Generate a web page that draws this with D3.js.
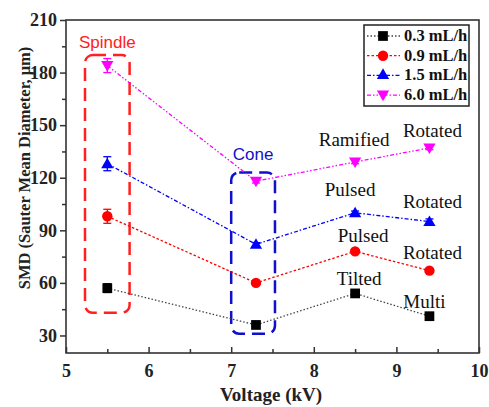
<!DOCTYPE html>
<html>
<head>
<meta charset="utf-8">
<script src="https://cdn.jsdelivr.net/npm/d3@7"></script>
<style>
  body { margin: 0; background: #fff; }
  svg { display: block; }
</style>
</head>
<body>
<script>
'use strict';

// chart values
const voltages = [5.5, 7.3, 8.5, 9.4];
const seriesNames = ['0.3 mL/h', '0.9 mL/h', '1.5 mL/h', '6.0 mL/h'];
const smd03 = [57, 36, 54, 41];
const smd09 = [98, 60, 78, 67];
const smd15 = [128, 82, 100, 95];
const smd60 = [184, 118, 129, 137];
const err03 = [2.5, 1, 1, 1];
const err09 = [4, 1, 1, 1];
const err15 = [4, 1, 1, 1.5];
const err60 = [4, 1, 1, 1];
const xTicks = [5, 6, 7, 8, 9, 10];
const yTicks = [30, 60, 90, 120, 150, 180, 210];

// mode labels, tied to the point they describe: [voltage, smd, text]
const modeLabels = [
  [8.5, 129, 'Ramified'], [9.4, 137, 'Rotated'],
  [8.5, 100, 'Pulsed'], [9.4, 95, 'Rotated'],
  [8.5, 78, 'Pulsed'], [9.4, 67, 'Rotated'],
  [8.5, 54, 'Tilted'], [9.4, 41, 'Multi']
];
// pixel nudges for those labels (dx, dy of baseline from the point)
const modeNudge = [
  [-1, -16], [3, -11],
  [-5, -17], [3, -14],
  [8, -9], [3, -12],
  [4, -8], [-5, -8]
];

// pick the first serif font the browser really has
function hasFont(name) {
  let ctx = document.createElement('canvas').getContext('2d');
  let probe = 'abcdefghijklmnopqrstuvwxyz0123456789';
  ctx.font = '40px monospace';
  let base = ctx.measureText(probe).width;
  ctx.font = '40px "' + name + '", monospace';
  return ctx.measureText(probe).width !== base;
}
let serifName = ['Liberation Serif', 'Times New Roman', 'Tinos', 'DejaVu Serif']
  .find(hasFont) || 'serif';
const serif = '"' + serifName + '", serif';
const sans = '"Liberation Sans", Arial, sans-serif';

const W = 489, H = 407;
const margin = { left: 66, right: 10, top: 20, bottom: 54 };

let svg = d3.select('body').append('svg')
  .attr('width', W)
  .attr('height', H);

let x = d3.scaleLinear().domain([5, 10]).range([margin.left, W - margin.right]);
let y = d3.scaleLinear().domain([20, 210]).range([H - margin.bottom, margin.top]);

const axisColor = '#333';

// frame
svg.append('rect')
  .attr('x', x(5)).attr('y', y(210))
  .attr('width', x(10) - x(5)).attr('height', y(20) - y(210))
  .attr('fill', 'none').attr('stroke', axisColor).attr('stroke-width', 1.6);

// x axis, ticks inward
let xAxis = d3.axisBottom(x).tickValues(xTicks).tickFormat(d3.format('d')).tickSize(-6).tickPadding(11);
let gx = svg.append('g').attr('transform', 'translate(0,' + y(20) + ')').call(xAxis);
let xMinor = d3.axisBottom(x).tickValues([5.5, 6.5, 7.5, 8.5, 9.5]).tickSize(-4).tickFormat('');
let gxm = svg.append('g').attr('transform', 'translate(0,' + y(20) + ')').call(xMinor);

// y axis, ticks outward
let yAxis = d3.axisLeft(y).tickValues(yTicks).tickSize(6).tickPadding(3);
let gy = svg.append('g').attr('transform', 'translate(' + x(5) + ',0)').call(yAxis);
let yMinor = d3.axisLeft(y).tickValues([45, 75, 105, 135, 165, 195]).tickSize(4).tickFormat('');
let gym = svg.append('g').attr('transform', 'translate(' + x(5) + ',0)').call(yMinor);

[gx, gxm, gy, gym].forEach(g => {
  g.attr('font-family', null).attr('font-size', null);
  g.select('.domain').remove();
  g.selectAll('line').attr('stroke', axisColor).attr('stroke-width', 1.5);
  g.selectAll('text')
    .attr('fill', '#222')
    .attr('font-family', serif)
    .attr('font-weight', 'bold')
    .attr('font-size', 18);
});

// axis titles
svg.append('text')
  .attr('x', 271)
  .attr('y', 401)
  .attr('text-anchor', 'middle')
  .attr('font-family', serif).attr('font-weight', 'bold').attr('font-size', 19)
  .attr('fill', '#222')
  .text('Voltage (kV)');

svg.append('text')
  .attr('transform', 'translate(30,168)rotate(-90)')
  .attr('text-anchor', 'middle')
  .attr('font-family', serif).attr('font-weight', 'bold').attr('font-size', 16.5)
  .attr('fill', '#222')
  .text('SMD (Sauter Mean Diameter, \u03bcm)');

// dashed highlight boxes
function dashedBox(x0, x1, y0, y1, color, label, labelY) {
  svg.append('rect')
    .attr('x', x(x0)).attr('y', y(y0))
    .attr('width', x(x1) - x(x0)).attr('height', y(y1) - y(y0))
    .attr('rx', 8).attr('ry', 8)
    .attr('fill', 'none')
    .attr('stroke', color)
    .attr('stroke-width', 2.5)
    .attr('stroke-dasharray', '13,7');
  svg.append('text')
    .attr('x', (x(x0) + x(x1)) / 2)
    .attr('y', labelY)
    .attr('text-anchor', 'middle')
    .attr('font-family', sans)
    .attr('font-size', 17)
    .attr('fill', color)
    .text(label);
}
dashedBox(5.23, 5.77, 190, 43, '#ff2020', 'Spindle', 48);
dashedBox(7.0, 7.53, 123, 31, '#1010cc', 'Cone', 160);

// series
const series = [
  { name: seriesNames[0], values: smd03, err: err03, color: '#000000', line: '#444', dash: '1.5,2', shape: d3.symbolSquare, size: 95, rot: 0 },
  { name: seriesNames[1], values: smd09, err: err09, color: '#ff0000', line: '#ff0000', dash: '2.5,2', shape: d3.symbolCircle, size: 85, rot: 0 },
  { name: seriesNames[2], values: smd15, err: err15, color: '#0000ff', line: '#0000ff', dash: '4,2,1.5,2', shape: d3.symbolTriangle, size: 65, rot: 0 },
  { name: seriesNames[3], values: smd60, err: err60, color: '#ff00ff', line: '#ff00ff', dash: '4,2,1.5,2,1.5,2', shape: d3.symbolTriangle, size: 65, rot: 180 }
];

let line = d3.line().x(d => x(d[0])).y(d => y(d[1]));

series.forEach(s => {
  let pts = voltages.map((v, i) => [v, s.values[i], s.err[i]]);
  svg.append('path')
    .datum(pts)
    .attr('fill', 'none')
    .attr('stroke', s.line)
    .attr('stroke-width', 1.3)
    .attr('stroke-dasharray', s.dash)
    .attr('d', line);

  // error bars
  let eb = svg.append('g').attr('stroke', s.color).attr('stroke-width', 1.3);
  pts.forEach(p => {
    eb.append('line')
      .attr('x1', x(p[0])).attr('x2', x(p[0]))
      .attr('y1', y(p[1] - p[2])).attr('y2', y(p[1] + p[2]));
    [p[1] - p[2], p[1] + p[2]].forEach(v => {
      eb.append('line')
        .attr('x1', x(p[0]) - 4).attr('x2', x(p[0]) + 4)
        .attr('y1', y(v)).attr('y2', y(v));
    });
  });

  svg.selectAll(null)
    .data(pts)
    .enter()
    .append('path')
    .attr('d', d3.symbol().type(s.shape).size(s.size))
    .attr('transform', d => 'translate(' + x(d[0]) + ',' + (y(d[1]) + (s.rot ? -1 : (s.shape === d3.symbolTriangle ? 1 : 0))) + ')rotate(' + s.rot + ')')
    .attr('fill', s.color);
});

// mode labels
svg.selectAll('.mode')
  .data(modeLabels)
  .enter()
  .append('text')
  .attr('class', 'mode')
  .attr('x', (d, i) => x(d[0]) + modeNudge[i][0])
  .attr('y', (d, i) => y(d[1]) + modeNudge[i][1])
  .attr('text-anchor', 'middle')
  .attr('font-family', serif)
  .attr('font-size', 19)
  .attr('fill', '#111')
  .text(d => d[2]);

// legend
let lg = svg.append('g').attr('transform', 'translate(364,25)');
lg.append('rect')
  .attr('width', 105).attr('height', 81)
  .attr('fill', '#fff')
  .attr('stroke', '#222')
  .attr('stroke-width', 1.5);
series.forEach((s, i) => {
  let row = lg.append('g').attr('transform', 'translate(0,' + (11 + i * 19.7) + ')');
  row.append('line')
    .attr('x1', 3).attr('x2', 36)
    .attr('stroke', s.line)
    .attr('stroke-width', 1.3)
    .attr('stroke-dasharray', s.dash);
  row.append('path')
    .attr('d', d3.symbol().type(s.shape).size(s.size))
    .attr('transform', 'translate(19,' + (s.rot ? -1 : 0) + ')rotate(' + s.rot + ')')
    .attr('fill', s.color);
  row.append('text')
    .attr('x', 40).attr('y', 5)
    .attr('font-family', serif)
    .attr('font-weight', 'bold')
    .attr('font-size', 16.5)
    .attr('fill', '#111')
    .text(s.name);
});
</script>
</body>
</html>
